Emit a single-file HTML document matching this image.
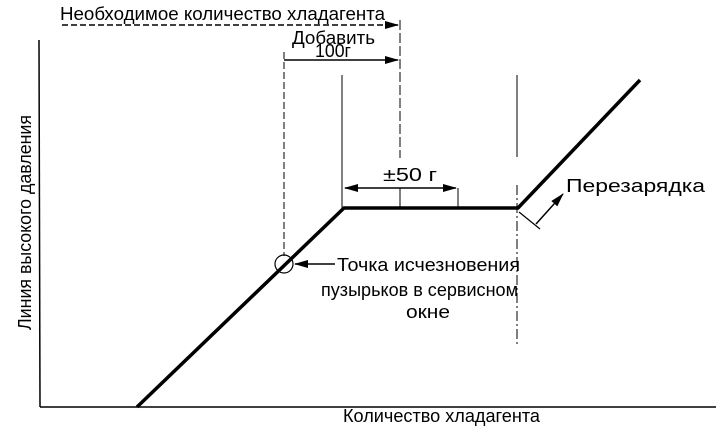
<!DOCTYPE html>
<html><head><meta charset="utf-8"><style>
html,body{margin:0;padding:0;background:#fff;}
svg{display:block;}
text{font-family:"Liberation Sans",sans-serif;font-size:18px;fill:#000;}
</style></head><body>
<svg width="723" height="429" viewBox="0 0 723 429" xmlns="http://www.w3.org/2000/svg">
<defs>
<marker id="ah" markerWidth="14" markerHeight="8" refX="13" refY="4" orient="auto" markerUnits="userSpaceOnUse">
<path d="M0,0 L14,4 L0,8 Z" fill="#000"/></marker>
</defs>
<line x1="39" y1="40" x2="40" y2="407" stroke="#000" stroke-width="1.5"/>
<line x1="40" y1="407" x2="716" y2="407" stroke="#000" stroke-width="1.5"/>
<polyline points="137,407 344,208 518,208 640,80" fill="none" stroke="#000" stroke-width="3.5"/>
<line x1="284" y1="52" x2="284" y2="256" stroke="#000" stroke-width="1" stroke-dasharray="7,3"/>
<line x1="342" y1="75" x2="342" y2="208" stroke="#000" stroke-width="1"/>
<line x1="400" y1="20" x2="400" y2="158" stroke="#000" stroke-width="1" stroke-dasharray="10,3"/>
<line x1="400" y1="188" x2="400" y2="208" stroke="#000" stroke-width="1"/>
<line x1="458" y1="188" x2="458" y2="208" stroke="#000" stroke-width="1"/>
<line x1="517" y1="75" x2="517" y2="157" stroke="#000" stroke-width="1"/>
<line x1="517" y1="185" x2="517" y2="345" stroke="#000" stroke-width="1" stroke-dasharray="10,3,2,3"/>
<line x1="62" y1="25" x2="398" y2="25" stroke="#000" stroke-width="1.5" stroke-dasharray="6,3" marker-end="url(#ah)"/>
<line x1="284" y1="60" x2="398" y2="60" stroke="#000" stroke-width="1.5" marker-end="url(#ah)"/>
<line x1="400" y1="188" x2="345" y2="188" stroke="#000" stroke-width="1.5" marker-end="url(#ah)"/>
<line x1="400" y1="188" x2="456" y2="188" stroke="#000" stroke-width="1.5" marker-end="url(#ah)"/>
<circle cx="284" cy="264" r="9" fill="none" stroke="#000" stroke-width="1.2"/>
<line x1="335" y1="264" x2="295" y2="264" stroke="#000" stroke-width="1.5" marker-end="url(#ah)"/>
<line x1="519" y1="212" x2="540" y2="229" stroke="#000" stroke-width="1.2"/>
<line x1="536" y1="224" x2="563" y2="194" stroke="#000" stroke-width="1.5" marker-end="url(#ah)"/>
<text x="60" y="20" textLength="325" lengthAdjust="spacingAndGlyphs">Необходимое количество хладагента</text>
<text x="292" y="44" textLength="83" lengthAdjust="spacingAndGlyphs">Добавить</text>
<text x="315" y="57" textLength="36" lengthAdjust="spacingAndGlyphs">100г</text>
<text x="383" y="181" textLength="54" lengthAdjust="spacingAndGlyphs">±50 г</text>
<text x="566" y="192" textLength="139" lengthAdjust="spacingAndGlyphs">Перезарядка</text>
<text x="337" y="271" textLength="183" lengthAdjust="spacingAndGlyphs">Точка исчезновения</text>
<text x="321" y="296" textLength="197" lengthAdjust="spacingAndGlyphs">пузырьков в сервисном</text>
<text x="406" y="318" textLength="44" lengthAdjust="spacingAndGlyphs">окне</text>
<text x="343" y="422" textLength="197" lengthAdjust="spacingAndGlyphs">Количество хладагента</text>
<text x="0" y="0" transform="translate(31,330) rotate(-90)" textLength="215" lengthAdjust="spacingAndGlyphs">Линия высокого давления</text>
</svg>
</body></html>
